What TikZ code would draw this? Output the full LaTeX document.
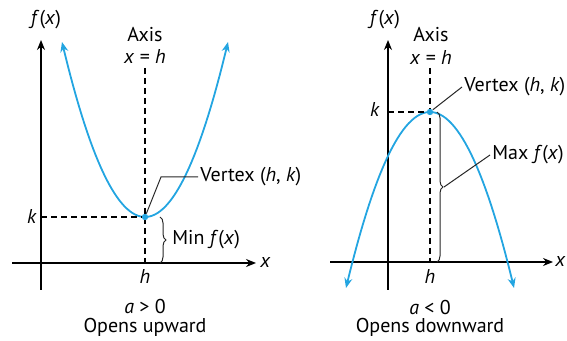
\documentclass[tikz,border=0pt]{standalone}
\usepackage{fontspec}
\setmainfont{PT Sans}
\usetikzlibrary{arrows.meta, positioning, decorations.pathreplacing, calc}
\definecolor{curvecolor}{RGB}{35,165,225}
\tikzset{
  axisline/.style  = {-{Stealth[length=5pt,width=4pt]}, line width=0.7pt},
  curve/.style     = {{Stealth[length=5pt,width=4pt]}-{Stealth[length=5pt,width=4pt]},
                      color=curvecolor, line width=0.9pt},
  guide/.style     = {dash pattern=on 3pt off 2pt, line width=0.55pt},
  lead/.style      = {line width=0.5pt, black!85},
  bracestyle/.style= {decorate, decoration={brace, amplitude=3pt}, line width=0.5pt, black!85},
  lbl/.style       = {inner sep=1pt, font=\normalsize},
  vdot/.style      = {circle, fill=curvecolor, inner sep=0pt, minimum size=3.2pt},
}
\begin{document}
\begin{tikzpicture}[x=0.5pt, y=-0.5pt]
  \useasboundingbox (0,0) rectangle (567,341);

  % left panel: opens upward
  \coordinate (Lyb) at (41,290);
  \coordinate (Lyt) at (41,40);
  \coordinate (Lxl) at (12,263);
  \coordinate (Lxr) at (256,263);
  \coordinate (Lat) at (145,68);
  \coordinate (Lab) at (145,263);
  \coordinate (Lk)  at (41,217);
  \coordinate (Lbend) at (161,177);
  \draw[axisline] (Lyb) -- (Lyt);
  \draw[axisline] (Lxl) -- (Lxr);
  \node[lbl] (Lfx) at (46,20) {\textit{f}(\textit{x})};
  \node[lbl, right=1pt of Lxr] (Lx) {\textit{x}};
  \node[lbl] (Laxis) at (145,35) {Axis};
  \node[lbl] (Laxeq) at (145,57) {\textit{x} = \textit{h}};
  \draw[guide] (Lat) -- (Lab);
  \draw[curve] plot[domain=62:228, samples=60] (\x, {217-175*((\x-145)/83)^2});
  \node[vdot] (Lv) at (145,217) {};
  \draw[guide] (Lk) -- (Lv);
  \node[lbl] (Lklab) at (32,217) {\textit{k}};
  \node[lbl] (Lhlab) at (145,277) {\textit{h}};
  \node[lbl, anchor=west] (Lvt) at (198,177) {Vertex (\textit{h}, \textit{k})};
  \draw[lead] (Lv) -- (Lbend) -- (Lvt.west);
  \draw[bracestyle] (160,217) -- (160,263);
  \node[lbl, anchor=west] (Lmin) at (170,240) {Min \textit{f}(\textit{x})};
  \node[lbl] (Lcond) at (145,307) {\textit{a} > 0};
  \node[lbl] (Lopen) at (145,327) {Opens upward};

  % right panel: opens downward
  \coordinate (Ryb) at (388,290);
  \coordinate (Ryt) at (388,40);
  \coordinate (Rxl) at (330,262);
  \coordinate (Rxr) at (553,262);
  \coordinate (Rat) at (430,68);
  \coordinate (Rab) at (430,262);
  \coordinate (Rk)  at (388,112);
  \coordinate (Rtip) at (444,187);
  \draw[axisline] (Ryb) -- (Ryt);
  \draw[axisline] (Rxl) -- (Rxr);
  \node[lbl] (Rfx) at (385,20) {\textit{f}(\textit{x})};
  \node[lbl, right=0pt of Rxr] (Rx) {\textit{x}};
  \node[lbl] (Raxis) at (431,35) {Axis};
  \node[lbl] (Raxeq) at (431,58) {\textit{x} = \textit{h}};
  \draw[guide] (Rat) -- (Rab);
  \draw[curve] plot[domain=346:514, samples=60] (\x, {112+176*((\x-430)/84)^2});
  \node[vdot] (Rv) at (430,112) {};
  \draw[guide] (Rk) -- (Rv);
  \node[lbl] (Rklab) at (375,110) {\textit{k}};
  \node[lbl] (Rhlab) at (430,277) {\textit{h}};
  \node[lbl, anchor=west] (Rvt) at (462,87) {Vertex (\textit{h}, \textit{k})};
  \draw[lead] (Rv) -- (Rvt.west);
  \draw[bracestyle] (437,112) -- (437,262);
  \node[lbl, anchor=west] (Rmax) at (490,155) {Max \textit{f}(\textit{x})};
  \draw[lead] (Rtip) -- (Rmax.west);
  \node[lbl] (Rcond) at (430,308) {\textit{a} < 0};
  \node[lbl] (Ropen) at (430,327) {Opens downward};
\end{tikzpicture}
\end{document}
